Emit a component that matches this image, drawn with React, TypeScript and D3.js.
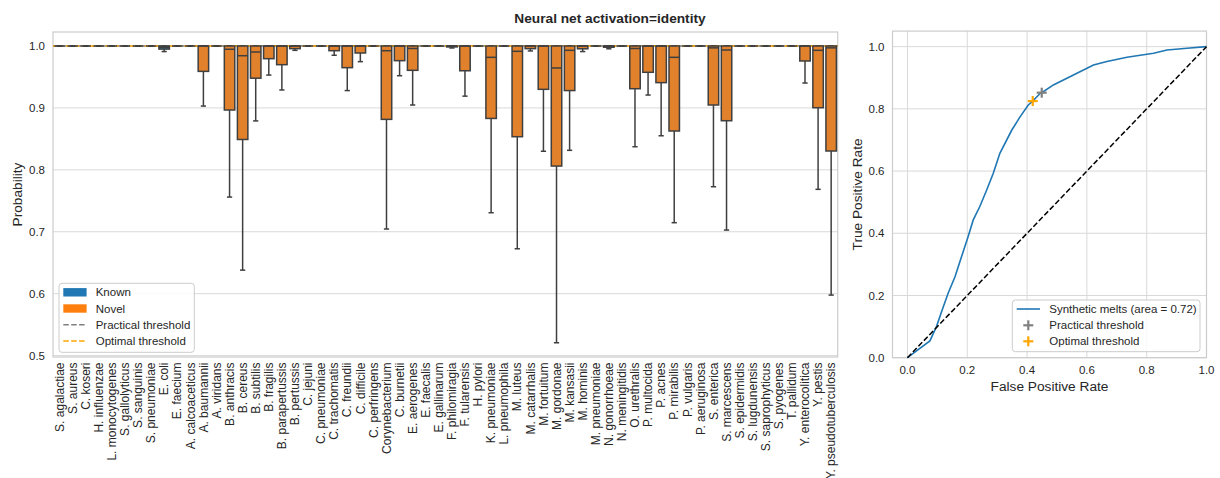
import React from "react";
import * as d3 from "d3";

// Organisms in plotting order (first ten are the known training classes)
const categories = [
  "S. agalactiae", "S. aureus", "C. koseri", "H. influenzae", "L. monocytogenes",
  "S. gallolyticus", "S. sanguinis", "S. pneumoniae", "E. coli", "E. faecium",
  "A. calcoaceticus", "A. baumannii", "A. viridans", "B. anthracis", "B. cereus",
  "B. subtilis", "B. fragilis", "B. parapertussis", "B. pertussis", "C. jejuni",
  "C. pneumoniae", "C. trachomatis", "C. freundii", "C. difficile", "C. perfringens",
  "Corynebacterium", "C. burnetii", "E. aerogenes", "E. faecalis", "E. gallinarum",
  "F. philomiragia", "F. tularensis", "H. pylori", "K. pneumoniae", "L. pneumophila",
  "M. luteus", "M. catarrhalis", "M. fortuitum", "M. gordonae", "M. kansasii",
  "M. hominis", "M. pneumoniae", "N. gonorrhoeae", "N. meningitidis", "O. urethralis",
  "P. multocida", "P. acnes", "P. mirabilis", "P. vulgaris", "P. aeruginosa",
  "S. enterica", "S. marcescens", "S. epidermidis", "S. lugdunensis", "S. saprophyticus",
  "S. pyogenes", "T. pallidum", "Y. enterocolitica", "Y. pestis", "Y. pseudotuberculosis",
];

const groups = [
  "Known", "Known", "Known", "Known", "Known", "Known", "Known", "Known", "Known", "Known",
  "Novel", "Novel", "Novel", "Novel", "Novel", "Novel", "Novel", "Novel", "Novel", "Novel",
  "Novel", "Novel", "Novel", "Novel", "Novel", "Novel", "Novel", "Novel", "Novel", "Novel",
  "Novel", "Novel", "Novel", "Novel", "Novel", "Novel", "Novel", "Novel", "Novel", "Novel",
  "Novel", "Novel", "Novel", "Novel", "Novel", "Novel", "Novel", "Novel", "Novel", "Novel",
  "Novel", "Novel", "Novel", "Novel", "Novel", "Novel", "Novel", "Novel", "Novel", "Novel",
];

// Box statistics of the predicted probability per organism
const q1 = [
  1, 1, 1, 1, 1, 1, 1, 1, 0.995, 1,
  1, 0.959, 1, 0.8966, 0.849, 0.948, 0.9795, 0.9698, 0.9957, 1,
  1, 0.9924, 0.965, 0.9887, 1, 0.8815, 0.9763, 0.9607, 1, 1,
  0.9985, 0.96, 1, 0.883, 1, 0.8535, 0.9957, 0.93, 0.8061, 0.928,
  0.9955, 1, 0.998, 1, 0.931, 0.9575, 0.9408, 0.8627, 1, 1,
  0.9047, 0.8793, 1, 1, 1, 1, 1, 0.9758, 0.9003, 0.8304,
];
const medians = [
  1, 1, 1, 1, 1, 1, 1, 1, 0.998, 1,
  1, 1, 1, 0.9947, 0.9843, 0.9903, 1, 1, 1, 1,
  1, 1, 1, 1, 1, 0.9924, 1, 0.996, 1, 1,
  1, 1, 1, 0.9817, 1, 0.9914, 1, 1, 0.9645, 0.993,
  1, 1, 1, 1, 0.996, 1, 1, 0.9817, 1, 1,
  0.997, 0.9935, 1, 1, 1, 1, 1, 1, 0.993, 0.997,
];
const q3 = [
  1, 1, 1, 1, 1, 1, 1, 1, 1, 1,
  1, 1, 1, 1, 1, 1, 1, 1, 1, 1,
  1, 1, 1, 1, 1, 1, 1, 1, 1, 1,
  1, 1, 1, 1, 1, 1, 1, 1, 1, 1,
  1, 1, 1, 1, 1, 1, 1, 1, 1, 1,
  1, 1, 1, 1, 1, 1, 1, 1, 1, 1,
];
const whiskerLow = [
  1, 1, 1, 1, 1, 1, 1, 1, 0.991, 1,
  1, 0.903, 1, 0.756, 0.638, 0.879, 0.953, 0.929, 0.993, 1,
  1, 0.985, 0.928, 0.9747, 1, 0.7044, 0.952, 0.9047, 1, 1,
  0.9968, 0.919, 1, 0.7307, 1, 0.6725, 0.992, 0.83, 0.5207, 0.8315,
  0.991, 1, 0.9955, 1, 0.8373, 0.9208, 0.855, 0.7146, 1, 1,
  0.7727, 0.7027, 1, 1, 1, 1, 1, 0.9402, 0.7685, 0.5977,
];
const whiskerHigh = [
  1, 1, 1, 1, 1, 1, 1, 1, 1, 1,
  1, 1, 1, 1, 1, 1, 1, 1, 1, 1,
  1, 1, 1, 1, 1, 1, 1, 1, 1, 1,
  1, 1, 1, 1, 1, 1, 1, 1, 1, 1,
  1, 1, 1, 1, 1, 1, 1, 1, 1, 1,
  1, 1, 1, 1, 1, 1, 1, 1, 1, 1,
];

const practicalThreshold = 0.9999;
const optimalThreshold = 0.9999;
const probTicks = [0.5, 0.6, 0.7, 0.8, 0.9, 1.0];

// ROC curve for the synthetic melts
const rocFpr = [
  0, 0.075, 0.097, 0.114, 0.136, 0.159, 0.181, 0.203, 0.22, 0.242, 0.265, 0.287,
  0.309, 0.349, 0.377, 0.404, 0.419, 0.444, 0.449, 0.488, 0.555, 0.622, 0.667,
  0.734, 0.823, 0.868, 0.935, 1.0,
];
const rocTpr = [
  0, 0.054, 0.1, 0.148, 0.207, 0.26, 0.325, 0.39, 0.443, 0.486, 0.539, 0.593,
  0.657, 0.732, 0.775, 0.8125, 0.825, 0.85, 0.852, 0.877, 0.909, 0.941, 0.952,
  0.966, 0.979, 0.989, 0.995, 1.0,
];
const rocArea = 0.72;
const practicalPoint = [0.449, 0.852];
const optimalPoint = [0.419, 0.825];
const rateTicks = [0, 0.2, 0.4, 0.6, 0.8, 1.0];

const FONT = "'Liberation Sans', Arial, Helvetica, sans-serif";
const TEXT = "#262626";
const GRID = "#d9d9d9";
const SPINE = "#cccccc";
const EDGE = "#3f3f3f";
const BOX_FILL: Record<string, string> = { Known: "#3274a1", Novel: "#e1812c" };
const LEGEND_FILL: Record<string, string> = { Known: "#1f77b4", Novel: "#ff7f0e" };
const ROC_BLUE = "#1f77b4";
const PRACTICAL = "#808080";
const OPTIMAL = "#ffa500";

function Plus({ x, y, color, size = 5 }: { x: number; y: number; color: string; size?: number }) {
  return (
    <g stroke={color} strokeWidth={2.2}>
      <line x1={x - size} x2={x + size} y1={y} y2={y} />
      <line x1={x} x2={x} y1={y - size} y2={y + size} />
    </g>
  );
}

function BoxPanel() {
  const left = 53, right = 837.7, top = 32, bottom = 357;
  const x = d3.scaleBand<string>().domain(categories).range([left, right]).paddingInner(0.2).paddingOuter(0.1);
  const y = d3.scaleLinear().domain([0.4977, 1.0226]).range([bottom, top]);
  const bw = x.bandwidth();

  const legendItems = [
    { label: "Known", kind: "patch", color: LEGEND_FILL.Known },
    { label: "Novel", kind: "patch", color: LEGEND_FILL.Novel },
    { label: "Practical threshold", kind: "line", color: PRACTICAL },
    { label: "Optimal threshold", kind: "line", color: OPTIMAL },
  ];

  return (
    <g fontFamily={FONT}>
      {probTicks.map((t) => (
        <g key={t}>
          <line x1={left} x2={right} y1={y(t)} y2={y(t)} stroke={GRID} strokeWidth={1} />
          <text x={45} y={y(t)} dy="0.35em" textAnchor="end" fontSize={11.5} fill={TEXT}>
            {t.toFixed(1)}
          </text>
        </g>
      ))}
      <rect x={left} y={top} width={right - left} height={bottom - top} fill="none" stroke={SPINE} strokeWidth={1.2} />

      {/* threshold lines */}
      <line x1={left} x2={right} y1={y(practicalThreshold)} y2={y(practicalThreshold)} stroke={PRACTICAL} strokeWidth={1.5} strokeDasharray="5.5,2.4" />
      <line x1={left} x2={right} y1={y(optimalThreshold)} y2={y(optimalThreshold)} stroke={OPTIMAL} strokeWidth={1.5} strokeDasharray="5.5,2.4" strokeDashoffset={3} />

      {categories.map((c, i) => {
        const x0 = x(c)!;
        const cx = x0 + bw / 2;
        const capHalf = bw / 4;
        return (
          <g key={c} stroke={EDGE} strokeWidth={1.5}>
            <line x1={cx} x2={cx} y1={y(q1[i])} y2={y(whiskerLow[i])} />
            <line x1={cx} x2={cx} y1={y(q3[i])} y2={y(whiskerHigh[i])} />
            <line x1={cx - capHalf} x2={cx + capHalf} y1={y(whiskerLow[i])} y2={y(whiskerLow[i])} />
            <line x1={cx - capHalf} x2={cx + capHalf} y1={y(whiskerHigh[i])} y2={y(whiskerHigh[i])} />
            <rect x={x0} y={y(q3[i])} width={bw} height={Math.max(0, y(q1[i]) - y(q3[i]))} fill={BOX_FILL[groups[i]]} />
            <line x1={x0} x2={x0 + bw} y1={y(medians[i])} y2={y(medians[i])} />
          </g>
        );
      })}

      {categories.map((c) => {
        const cx = x(c)! + bw / 2;
        return (
          <text key={c} transform={`translate(${cx},362.5) rotate(-90)`} dy="0.35em" textAnchor="end" fontSize={12} fill={TEXT}>
            {c}
          </text>
        );
      })}

      <text transform={`translate(22,${(top + bottom) / 2}) rotate(-90)`} textAnchor="middle" fontSize={13.7} fill={TEXT}>
        Probability
      </text>

      {/* legend */}
      <rect x={59} y={283.3} width={135.3} height={69} rx={3} fill="#ffffff" fillOpacity={0.8} stroke={SPINE} strokeWidth={1} />
      {legendItems.map((d, k) => {
        const cy = 292.3 + k * 16.2;
        return (
          <g key={d.label}>
            {d.kind === "patch" ? (
              <rect x={63.3} y={cy - 4.2} width={23.3} height={8.4} fill={d.color} />
            ) : (
              <line x1={63.3} x2={86.6} y1={cy} y2={cy} stroke={d.color} strokeWidth={1.5} strokeDasharray="5.5,2.4" />
            )}
            <text x={95.7} y={cy} dy="0.35em" fontSize={11.5} fill={TEXT}>
              {d.label}
            </text>
          </g>
        );
      })}
    </g>
  );
}

function RocPanel() {
  const left = 892.5, right = 1206.5, top = 31.1, bottom = 357.7;
  const x = d3.scaleLinear().domain([-0.05, 1.0]).range([left, right]);
  const y = d3.scaleLinear().domain([0, 1.05]).range([bottom, top]);
  const points: [number, number][] = rocFpr.map((f, i) => [f, rocTpr[i]]);
  const line = d3.line<[number, number]>().x((d) => x(d[0])).y((d) => y(d[1]));

  return (
    <g fontFamily={FONT}>
      {rateTicks.map((t) => (
        <g key={`g${t}`}>
          <line x1={x(t)} x2={x(t)} y1={top} y2={bottom} stroke={GRID} strokeWidth={1} />
          <line x1={left} x2={right} y1={y(t)} y2={y(t)} stroke={GRID} strokeWidth={1} />
          <text x={x(t)} y={370} dy="0.35em" textAnchor="middle" fontSize={11.5} fill={TEXT}>
            {t.toFixed(1)}
          </text>
          <text x={884.5} y={y(t)} dy="0.35em" textAnchor="end" fontSize={11.5} fill={TEXT}>
            {t.toFixed(1)}
          </text>
        </g>
      ))}
      <rect x={left} y={top} width={right - left} height={bottom - top} fill="none" stroke={SPINE} strokeWidth={1.2} />

      <path d={line(points) ?? ""} fill="none" stroke={ROC_BLUE} strokeWidth={1.6} />
      <line x1={x(0)} y1={y(0)} x2={x(1)} y2={y(1)} stroke="#000000" strokeWidth={1.5} strokeDasharray="5.5,2.4" />
      <Plus x={x(practicalPoint[0])} y={y(practicalPoint[1])} color={PRACTICAL} />
      <Plus x={x(optimalPoint[0])} y={y(optimalPoint[1])} color={OPTIMAL} />

      <text x={(left + right) / 2} y={390.5} textAnchor="middle" fontSize={13.7} fill={TEXT}>
        False Positive Rate
      </text>
      <text transform={`translate(862,${(top + bottom) / 2}) rotate(-90)`} textAnchor="middle" fontSize={13.7} fill={TEXT}>
        True Positive Rate
      </text>

      {/* legend */}
      <rect x={1012.3} y={300} width={187.7} height={51.7} rx={3} fill="#ffffff" fillOpacity={0.8} stroke={SPINE} strokeWidth={1} />
      <line x1={1016.7} x2={1040} y1={309} y2={309} stroke={ROC_BLUE} strokeWidth={1.6} />
      <text x={1049.3} y={309} dy="0.35em" fontSize={11.5} fill={TEXT}>
        {`Synthetic melts (area = ${rocArea.toFixed(2)})`}
      </text>
      <Plus x={1028.3} y={325.3} color={PRACTICAL} />
      <text x={1049.3} y={325.3} dy="0.35em" fontSize={11.5} fill={TEXT}>
        Practical threshold
      </text>
      <Plus x={1028.3} y={341.3} color={OPTIMAL} />
      <text x={1049.3} y={341.3} dy="0.35em" fontSize={11.5} fill={TEXT}>
        Optimal threshold
      </text>
    </g>
  );
}

export default function App() {
  return (
    <svg
      width={1220}
      height={478}
      viewBox="0 0 1220 478"
      style={{ position: "absolute", left: 0, top: 0, background: "#ffffff" }}
    >
      <rect width={1220} height={478} fill="#ffffff" />
      <text x={610} y={23} textAnchor="middle" fontFamily={FONT} fontWeight="bold" fontSize={13.7} fill={TEXT}>
        Neural net activation=identity
      </text>
      <BoxPanel />
      <RocPanel />
    </svg>
  );
}
